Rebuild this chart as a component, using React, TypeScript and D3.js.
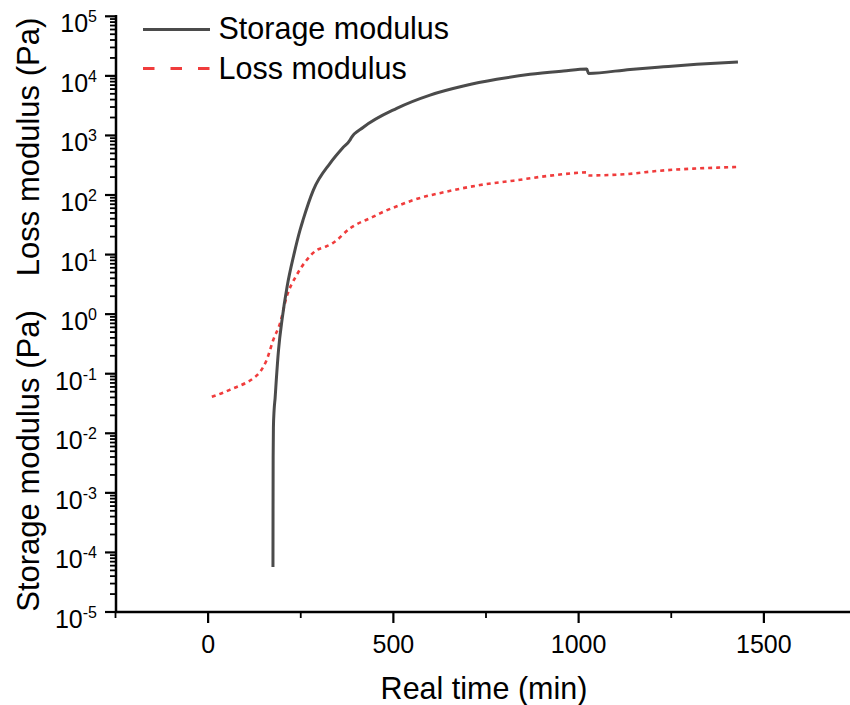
import React from "react";
import * as d3 from "d3";

const storageTime = [175.0, 175.2, 175.5, 176.2, 178, 180.8, 184, 190, 200, 213, 232, 248, 256, 284, 329, 363, 383, 386, 419, 509, 599, 689, 779, 869, 959, 1022, 1026.5, 1139, 1229, 1319, 1430];
const storageValue = [5.7e-5, 5e-4, 4e-3, 0.0125, 0.024, 0.039, 0.079, 0.25, 0.85, 2.86, 10.3, 25.7, 37.8, 121, 340, 615, 838, 905, 1370, 2850, 4760, 6750, 8750, 10600, 12050, 13000, 11000, 12850, 14220, 15630, 17100];

const lossTime = [10, 40, 68, 100, 122, 140, 158, 176, 194, 212, 239, 266, 293, 316, 338, 383, 446, 464, 518, 554, 644, 734, 824, 914, 1004, 1020, 1026.5, 1131, 1220, 1309, 1428];
const lossValue = [0.0411, 0.0479, 0.0569, 0.0692, 0.0838, 0.107, 0.17, 0.372, 0.701, 1.96, 4.54, 8.11, 11.9, 13.5, 15.8, 27.6, 43.3, 49.3, 67.9, 82.4, 114, 147, 174, 208, 237, 240, 213, 225, 256, 277, 295];

const xMajorTicks = [0, 500, 1000, 1500];
const xMinorTicks = [-250, 250, 750, 1250, 1750];
const yExponents = [5, 4, 3, 2, 1, 0, -1, -2, -3, -4, -5];

const seriesNames = ["Storage modulus", "Loss modulus"];

const FONT = "'Liberation Sans', Arial, sans-serif";
const GRAY = "#4b4b4b";
const RED = "#f03c3c";

export default function App() {
  const x = d3.scaleLinear().domain([-250, 1750]).range([115.5, 856.5]);
  const y = d3.scaleLog().domain([1e-5, 1e5]).range([612, 16.3]);

  const line = d3
    .line<[number, number]>()
    .x((d) => x(d[0]))
    .y((d) => y(d[1]))
    .curve(d3.curveMonotoneX);

  const storage = storageTime.map((t, i) => [t, storageValue[i]] as [number, number]);
  const loss = lossTime.map((t, i) => [t, lossValue[i]] as [number, number]);

  const minorY: number[] = [];
  for (let e = -5; e < 5; e++) {
    for (let m = 2; m <= 9; m++) minorY.push(m * Math.pow(10, e));
  }

  const axisX = 116;
  const axisY = 612;

  return (
    <svg
      width={850}
      height={705}
      style={{ position: "absolute", left: 0, top: 0, display: "block", background: "#fff" }}
      fontFamily={FONT}
    >
      <rect x={0} y={0} width={850} height={705} fill="#fff" />
      {/* data */}
      <path d={line(loss) || ""} fill="none" stroke={RED} strokeWidth={2.6} strokeDasharray="4 4" />
      <path d={line(storage) || ""} fill="none" stroke={GRAY} strokeWidth={3} strokeLinejoin="round" />

      {/* y axis */}
      <line x1={axisX} x2={axisX} y1={15} y2={axisY + 1} stroke="#000" strokeWidth={2.5} />
      {minorY.map((v, i) => (
        <line key={"ym" + i} x1={axisX - 6} x2={axisX} y1={y(v)} y2={y(v)} stroke="#000" strokeWidth={1.8} />
      ))}
      {yExponents.map((e) => (
        <g key={"yt" + e}>
          <line x1={axisX - 11} x2={axisX} y1={y(Math.pow(10, e))} y2={y(Math.pow(10, e))} stroke="#000" strokeWidth={2.2} />
          <text x={97} y={y(Math.pow(10, e)) + 16} textAnchor="end" fontSize={25} fill="#000">
            10
            <tspan fontSize={16} dy={-10}>
              {e < 0 ? "-" + Math.abs(e) : String(e)}
            </tspan>
          </text>
        </g>
      ))}

      {/* x axis */}
      <line x1={axisX - 1} x2={850} y1={axisY} y2={axisY} stroke="#000" strokeWidth={2.5} />
      {xMinorTicks.map((t) => (
        <line key={"xm" + t} x1={x(t)} x2={x(t)} y1={axisY} y2={axisY + 6} stroke="#000" strokeWidth={1.8} />
      ))}
      {xMajorTicks.map((t) => (
        <g key={"xt" + t}>
          <line x1={x(t)} x2={x(t)} y1={axisY} y2={axisY + 11} stroke="#000" strokeWidth={2.2} />
          <text x={x(t)} y={653} textAnchor="middle" fontSize={25} fill="#000">
            {t}
          </text>
        </g>
      ))}

      {/* axis titles */}
      <text x={484} y={699} textAnchor="middle" fontSize={30.5} fill="#000">
        Real time (min)
      </text>
      <text transform="translate(39,461) rotate(-90)" textAnchor="middle" fontSize={31} fill="#000">
        Storage modulus (Pa)
      </text>
      <text transform="translate(39,147) rotate(-90)" textAnchor="middle" fontSize={31} fill="#000">
        Loss modulus (Pa)
      </text>

      {/* legend */}
      <line x1={143} x2={210} y1={29.5} y2={29.5} stroke={GRAY} strokeWidth={3} />
      <text x={218.5} y={39} fontSize={30.5} fill="#000">
        {seriesNames[0]}
      </text>
      <line x1={143} x2={210} y1={68.5} y2={68.5} stroke={RED} strokeWidth={3} strokeDasharray="11.5 16" />
      <text x={218.5} y={78.5} fontSize={30.5} fill="#000">
        {seriesNames[1]}
      </text>
    </svg>
  );
}
